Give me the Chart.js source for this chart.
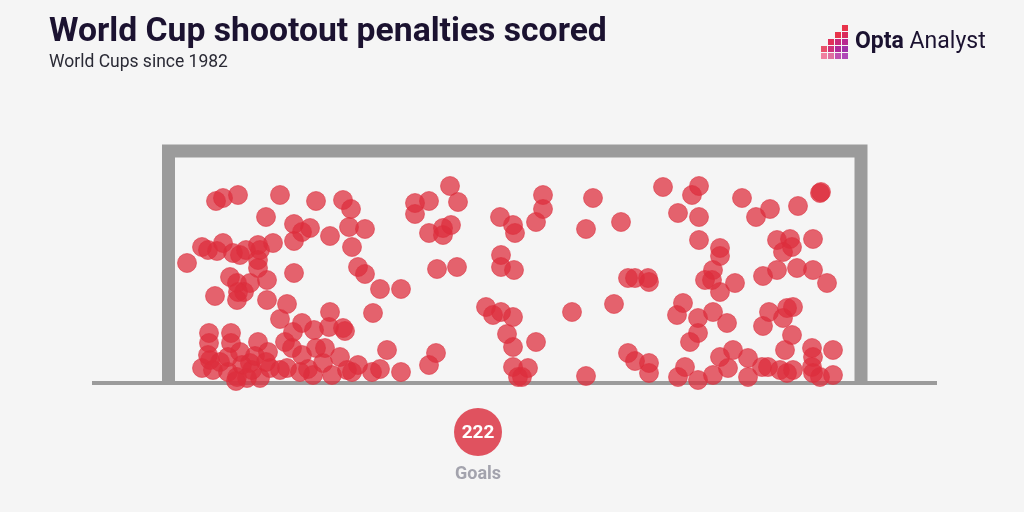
<!DOCTYPE html>
<html>
<head>
<meta charset="utf-8">
<script src="https://cdn.jsdelivr.net/npm/chart.js@4"></script>
<style>
  html, body { margin: 0; padding: 0; background: #f5f5f5; }
  #wrap { position: relative; width: 1024px; height: 512px; overflow: hidden; }
  #goal { position: absolute; left: 0; top: 0; }
  .title { position: absolute; left: 49px; top: 13px; font-family: Roboto, sans-serif; font-weight: 700;
           font-size: 33.7px; line-height: 1; color: #1b1230; white-space: nowrap; }
  .sub { position: absolute; left: 49px; top: 53px; font-family: Roboto, sans-serif; font-size: 17.5px;
         line-height: 1; color: #2a2a35; white-space: nowrap; }
  .logo { position: absolute; left: 855px; top: 29px; font-family: Roboto, sans-serif; font-size: 23px;
          line-height: 1; color: #1b1230; white-space: nowrap; }
  .logo b { font-weight: 700; }
  .px { position: absolute; width: 6px; height: 6px; }
  .badge { position: absolute; left: 454px; top: 408px; width: 48px; height: 48px; border-radius: 50%;
           background: #e0525f; color: #fff; font-family: Roboto, sans-serif; font-weight: 700;
           font-size: 19px; line-height: 48px; text-align: center; }
  .goals { position: absolute; left: 428px; top: 462px; width: 100px; text-align: center;
           font-family: Roboto, sans-serif; font-weight: 700; font-size: 18px; color: #a3a3ad; }
</style>
</head>
<body>
<div id="wrap">
  <canvas id="goal" width="1024" height="512"></canvas>
  <div class="title">World Cup shootout penalties scored</div>
  <div class="sub">World Cups since 1982</div>
  <div id="icon"></div>
  <div class="logo"><b>Opta</b> Analyst</div>
  <div class="badge">222</div>
  <div class="goals">Goals</div>
</div>
<script>
// goal units: x from inside of left post, y from the ground (1 unit ~ 1.08 cm)
const shotX = [
  41, 48, 63, 105, 141, 168, 176, 91, 240, 254, 240, 275, 283, 325, 338, 340, 368, 368, 361, 418,
  446, 411, 488, 517, 524, 503, 524, 567, 581, 595, 623, 645, 646,
  119, 127, 135, 119, 155, 174, 190, 27, 33, 42, 48, 58, 65, 71, 83, 85, 98, 12, 83, 83, 92,
  119, 55, 62, 75, 69, 40, 63, 62, 92, 177, 183, 190, 205, 226, 254, 268, 276, 268, 262, 282,
  326, 326, 339, 453, 460, 474, 473, 524, 545, 545, 538, 537, 530, 560, 602, 615, 617, 608, 638,
  588, 602, 622, 638, 652, 545,
  112, 105, 127, 155, 154, 139, 168, 118, 198, 34, 56, 34, 56, 83, 93, 110, 117, 141, 127, 165,
  148, 27, 35, 45, 53, 65, 67, 75, 62, 72, 85, 95, 105, 112, 133, 138, 157, 172, 77, 170, 212,
  183, 177, 197, 205, 226, 261, 254, 311, 318, 326, 338, 332, 338, 338, 343, 361, 353, 347, 397,
  439, 411, 453, 460, 474, 474, 502, 508, 523, 538, 552, 523, 515, 510, 503, 523, 538, 545, 553,
  558, 573, 573, 587, 593, 605, 612, 618, 610, 617, 588, 594, 612, 618, 608, 637, 638, 658, 637,
  645, 638, 658,
  33, 38, 53, 61, 80, 91, 125, 150
];
const shotY = [
  182, 185, 188, 188, 182, 183, 174, 166, 180, 182, 169, 197, 181, 166, 158, 150, 188, 174, 161, 185,
  161, 154, 196, 188, 197, 170, 166, 185, 166, 174, 177, 190, 191,
  159, 151, 155, 142, 147, 156, 154, 136, 133, 132, 140, 130, 128, 133, 138, 133, 140, 120, 123, 115, 103,
  110, 106, 100, 100, 91, 87, 91, 83, 83, 136, 116, 109, 94, 94, 150, 148, 158, 155, 114, 116,
  128, 116, 113, 105, 105, 101, 105, 143, 135, 127, 113, 103, 103, 100, 143, 144, 136, 131, 144,
  107, 113, 115, 113, 100, 91,
  79, 64, 60, 71, 56, 53, 55, 51, 70, 50, 50, 40, 40, 41, 31, 41, 35, 35, 28, 26,
  20, 15, 23, 21, 26, 31, 18, 20, 6, 5, 5, 15, 13, 15, 14, 8, 8, 13, 13, 52, 33,
  18, 11, 11, 14, 11, 30, 18, 76, 68, 71, 66, 49, 36, 16, 6, 41, 15, 6, 71,
  79, 7, 30, 22, 20, 10, 68, 80, 65, 71, 60, 50, 41, 16, 6, 3, 8, 26, 15,
  33, 25, 6, 16, 16, 13, 10, 13, 33, 48, 57, 71, 75, 76, 65, 35, 26, 33, 16,
  6, 10, 8,
  28, 13, 11, 2, 27, 21, 11, 35
];
// frame: posts + crossbar (centre lines) and the ground line
const frameX = [-6.5, -6.5, 686, 686];
const frameY = [0, 232, 232, 0];
const groundX = [-83, 762];
const groundY = [0, 0];

const zip = (xs, ys) => xs.map((x, i) => ({ x: x, y: ys[i] }));

// opta pixel icon
const iconCells = [
  [842, 25, "#e8334a"], [835, 32, "#e8334a"], [842, 32, "#d92a5a"], [828, 39, "#e0305a"],
  [835, 39, "#c8287a"], [842, 39, "#b82890"], [821, 46, "#e8506a"], [828, 46, "#d0307a"],
  [835, 46, "#b02898"], [842, 46, "#a030a8"], [828, 53, "#e070a0"], [835, 53, "#c050b0"],
  [842, 53, "#b048b8"], [821, 53, "#f080a0"]
];
const icon = document.getElementById("icon");
iconCells.forEach(c => {
  const d = document.createElement("div");
  d.className = "px";
  d.style.left = c[0] + "px";
  d.style.top = c[1] + "px";
  d.style.background = c[2];
  icon.appendChild(d);
});

new Chart(document.getElementById("goal"), {
  type: "scatter",
  data: {
    datasets: [{
      label: "Goals",
      data: zip(shotX, shotY),
      backgroundColor: "rgba(221, 46, 61, 0.74)",
      borderColor: "rgba(221, 46, 61, 0.55)",
      borderWidth: 1,
      pointRadius: 9.5,
      order: 1,
      clip: false
    }, {
      label: "frame",
      data: zip(frameX, frameY),
      showLine: true,
      borderColor: "#9b9b9b",
      borderWidth: 13,
      borderJoinStyle: "miter",
      borderCapStyle: "butt",
      pointRadius: 0,
      order: 3,
      clip: false
    }, {
      label: "ground",
      data: zip(groundX, groundY),
      showLine: true,
      borderColor: "#9b9b9b",
      borderWidth: 4,
      pointRadius: 0,
      order: 2,
      clip: false
    }]
  },
  options: {
    responsive: false,
    animation: false,
    layout: { padding: 0, autoPadding: false },
    plugins: {
      legend: { display: false },
      tooltip: { enabled: false }
    },
    scales: {
      x: { type: "linear", min: -175, max: 849, display: false },
      y: { type: "linear", min: -129, max: 383, display: false }
    }
  }
});
</script>
</body>
</html>
